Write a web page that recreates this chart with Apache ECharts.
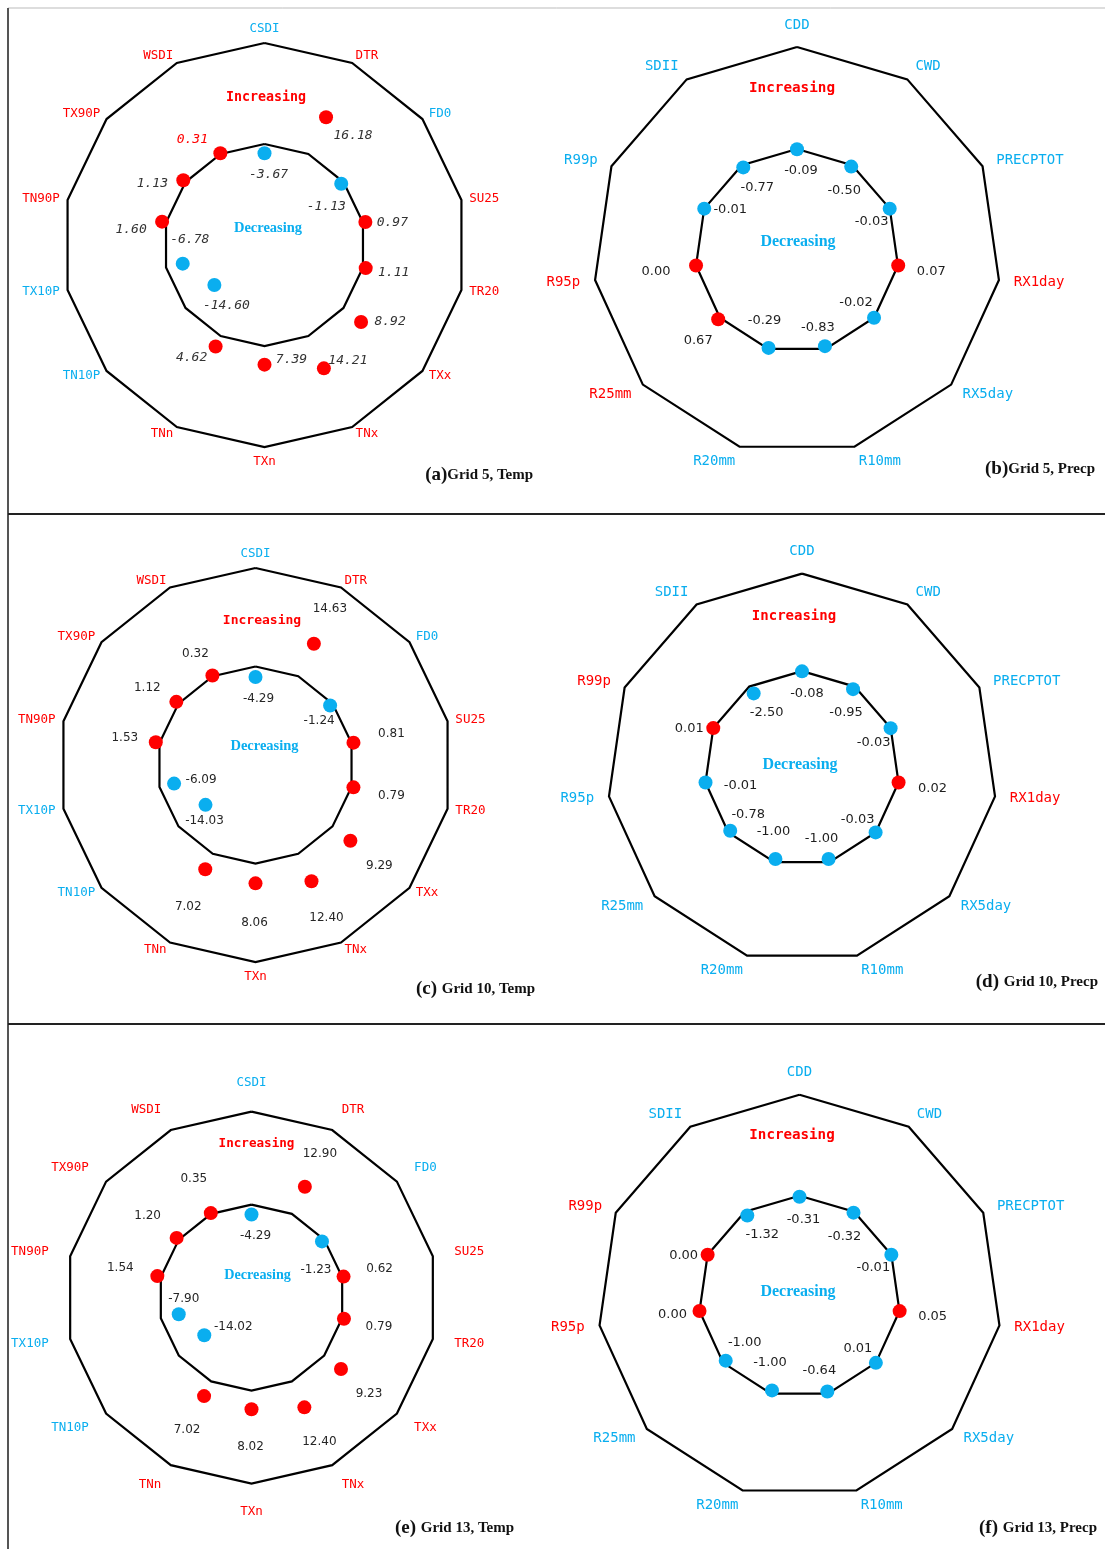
<!DOCTYPE html>
<html>
<head>
<meta charset="utf-8">
<title>Climate extreme indices trends</title>
<script src="https://cdn.jsdelivr.net/npm/echarts@6/dist/echarts.min.js"></script>
<style>
  html, body { margin: 0; padding: 0; background: #ffffff; }
  #chart { width: 1105px; height: 1549px; }
</style>
</head>
<body>
<div id="chart"></div>
<script>
// ETCCDI indices, listed clockwise starting from the top of each polygon
const tempIndices = ['CSDI', 'DTR', 'FD0', 'SU25', 'TR20', 'TXx', 'TNx', 'TXn', 'TNn', 'TN10P', 'TX10P', 'TN90P', 'TX90P', 'WSDI'];
const precIndices = ['CDD', 'CWD', 'PRECPTOT', 'RX1day', 'RX5day', 'R10mm', 'R20mm', 'R25mm', 'R95p', 'R99p', 'SDII'];

// Trend values per grid (I = increasing, D = decreasing)
const grid5Temp       = [-3.67, 16.18, -1.13, 0.97, 1.11, 8.92, 14.21, 7.39, 4.62, -14.60, -6.78, 1.60, 1.13, 0.31];
const grid5TempTrend  = ['D', 'I', 'D', 'I', 'I', 'I', 'I', 'I', 'I', 'D', 'D', 'I', 'I', 'I'];
const grid5Prec       = [-0.09, -0.50, -0.03, 0.07, -0.02, -0.83, -0.29, 0.67, 0.00, -0.01, -0.77];
const grid5PrecTrend  = ['D', 'D', 'D', 'I', 'D', 'D', 'D', 'I', 'I', 'D', 'D'];

const grid10Temp      = [-4.29, 14.63, -1.24, 0.81, 0.79, 9.29, 12.40, 8.06, 7.02, -14.03, -6.09, 1.53, 1.12, 0.32];
const grid10TempTrend = ['D', 'I', 'D', 'I', 'I', 'I', 'I', 'I', 'I', 'D', 'D', 'I', 'I', 'I'];
const grid10Prec      = [-0.08, -0.95, -0.03, 0.02, -0.03, -1.00, -1.00, -0.78, -0.01, 0.01, -2.50];
const grid10PrecTrend = ['D', 'D', 'D', 'I', 'D', 'D', 'D', 'D', 'D', 'I', 'D'];

const grid13Temp      = [-4.29, 12.90, -1.23, 0.62, 0.79, 9.23, 12.40, 8.02, 7.02, -14.02, -7.90, 1.54, 1.20, 0.35];
const grid13TempTrend = ['D', 'I', 'D', 'I', 'I', 'I', 'I', 'I', 'I', 'D', 'D', 'I', 'I', 'I'];
const grid13Prec      = [-0.31, -0.32, -0.01, 0.05, 0.01, -0.64, -1.00, -1.00, 0.00, 0.00, -1.32];
const grid13PrecTrend = ['D', 'D', 'D', 'I', 'D', 'D', 'D', 'D', 'I', 'I', 'D'];

// Value label placement relative to each dot, [dx, dy] in px
const offsetsA = [[4, 21], [27, 18], [-15, 23], [27, 1], [28, 5], [29, 0], [24, -8], [27, -5], [-24, 11], [12, 21], [7, -24], [-31, 8], [-31, 3], [-28, -14]];
const offsetsB = [[4, 21], [-7, 24], [-18, 13], [33, 6], [-18, -15], [-7, -19], [-4, -27], [-20, 21], [-40, 6], [26, 1], [14, 20]];
const offsetsC = [[3, 22], [16, -35], [-11, 15], [38, -9], [38, 9], [29, 25], [15, 37], [-1, 40], [-17, 38], [-1, 16], [27, -4], [-31, -4], [-29, -14], [-17, -22]];
const offsetsD = [[5, 22], [-7, 23], [-17, 14], [34, 6], [-18, -13], [-7, -20], [-2, -27], [18, -16], [35, 3], [-24, 1], [13, 19]];
const offsetsE = [[4, 21], [15, -33], [-6, 28], [36, -8], [35, 8], [28, 25], [15, 35], [-1, 38], [-17, 34], [29, -8], [5, -15], [-37, -8], [-29, -22], [-17, -34]];
const offsetsF = [[4, 23], [-9, 24], [-18, 13], [33, 6], [-18, -14], [-8, -21], [-2, -28], [19, -18], [-27, 4], [-24, 1], [15, 19]];

const RED = '#ff0000';
const BLUE = '#0aaeef';

const tempValueFont = { fontFamily: 'DejaVu Sans', fontSize: 12, color: '#262626' };
const precValueFont = { fontFamily: 'DejaVu Sans', fontSize: 13, color: '#1e1e1e' };

const panels = [
  { names: tempIndices, values: grid5Temp, trend: grid5TempTrend, offsets: offsetsA,
    center: [264.5, 245], radius: 202, range: 40, nameSize: 12.5, nameGap: 8,
    valueFont: { fontFamily: 'DejaVu Sans Mono', fontStyle: 'italic', fontSize: 13, color: '#333333' },
    redValueLabels: [13],
    inc: [266, 98], dec: [268, 228], incSize: 13.3, decSize: 14.5,
    tag: '(a)', caption: 'Grid 5, Temp', capPos: [533, 475] },
  { names: precIndices, values: grid5Prec, trend: grid5PrecTrend, offsets: offsetsB,
    center: [797, 251], radius: 204, range: 30, nameSize: 14, nameGap: 15,
    valueFont: precValueFont, redValueLabels: [],
    inc: [792, 88], dec: [798, 242], incSize: 14.3, decSize: 16,
    tag: '(b)', caption: 'Grid 5, Precp', capPos: [1095, 469] },
  { names: tempIndices, values: grid10Temp, trend: grid10TempTrend, offsets: offsetsC,
    center: [255.5, 765], radius: 197, range: 40, nameSize: 12.5, nameGap: 8,
    valueFont: tempValueFont, redValueLabels: [],
    inc: [262, 621], dec: [264.5, 746], incSize: 13, decSize: 14.5,
    tag: '(c) ', caption: 'Grid 10, Temp', capPos: [535, 989] },
  { names: precIndices, values: grid10Prec, trend: grid10PrecTrend, offsets: offsetsD,
    center: [802, 768.6], radius: 195, range: 30, nameSize: 14, nameGap: 15,
    valueFont: precValueFont, redValueLabels: [],
    inc: [794, 616], dec: [800, 765], incSize: 14, decSize: 16,
    tag: '(d) ', caption: 'Grid 10, Precp', capPos: [1098, 982] },
  { names: tempIndices, values: grid13Temp, trend: grid13TempTrend, offsets: offsetsE,
    center: [251.5, 1297.6], radius: 186, range: 40, nameSize: 12.5, nameGap: 22,
    valueFont: tempValueFont, redValueLabels: [],
    inc: [256.5, 1144], dec: [257.6, 1275], incSize: 12.6, decSize: 14.2,
    tag: '(e) ', caption: 'Grid 13, Temp', capPos: [514, 1528] },
  { names: precIndices, values: grid13Prec, trend: grid13PrecTrend, offsets: offsetsF,
    center: [799.5, 1296.7], radius: 202, range: 30, nameSize: 14, nameGap: 15,
    valueFont: precValueFont, redValueLabels: [],
    inc: [792, 1135], dec: [798, 1292], incSize: 14.2, decSize: 16,
    tag: '(f) ', caption: 'Grid 13, Precp', capPos: [1097, 1528] }
];

// ECharts lays radar indicators out counter-clockwise; reorder so they read clockwise
function radarOrder(n) {
  const idx = [0];
  for (let i = n - 1; i >= 1; i--) idx.push(i);
  return idx;
}

const radar = [], polar = [], angleAxis = [], radiusAxis = [], series = [], graphic = [];

panels.forEach(function (p, k) {
  const n = p.names.length;
  radar.push({
    center: p.center,
    radius: p.radius,
    startAngle: 90,
    splitNumber: 2,
    shape: 'polygon',
    axisNameGap: p.nameGap,
    axisName: { fontFamily: 'DejaVu Sans Mono', fontSize: p.nameSize },
    indicator: radarOrder(n).map(function (i) {
      return { name: p.names[i], min: -p.range, max: p.range, color: p.trend[i] === 'I' ? RED : BLUE };
    }),
    axisLine: { show: false },
    axisTick: { show: false },
    axisLabel: { show: false },
    splitArea: { show: false },
    splitLine: { lineStyle: { color: '#000000', width: 2.2 } }
  });

  // Polar system sharing the radar's centre and radius places the dots
  polar.push({ center: p.center, radius: p.radius });
  angleAxis.push({ polarIndex: k, type: 'category', data: p.names, startAngle: 90, clockwise: true, boundaryGap: false, show: false });
  radiusAxis.push({ polarIndex: k, type: 'value', min: -p.range, max: p.range, show: false });

  series.push({
    type: 'scatter',
    coordinateSystem: 'polar',
    polarIndex: k,
    symbol: 'circle',
    symbolSize: 14,
    silent: true,
    z: 5,
    label: Object.assign({
      show: true,
      position: 'inside',
      formatter: function (d) { return d.value[0].toFixed(2); }
    }, p.valueFont),
    data: p.values.map(function (v, i) {
      const item = {
        value: [v, i],
        itemStyle: { color: p.trend[i] === 'I' ? RED : BLUE, opacity: 1 },
        label: { offset: p.offsets[i] }
      };
      if (p.redValueLabels.indexOf(i) >= 0) item.label.color = RED;
      return item;
    })
  });

  graphic.push({
    type: 'text', x: p.inc[0], y: p.inc[1], silent: true,
    style: { text: 'Increasing', fill: RED, align: 'center', verticalAlign: 'middle',
             font: 'bold ' + p.incSize + 'px "DejaVu Sans Mono", monospace' }
  });
  graphic.push({
    type: 'text', x: p.dec[0], y: p.dec[1], silent: true,
    style: { text: 'Decreasing', fill: BLUE, align: 'center', verticalAlign: 'middle',
             font: 'bold ' + p.decSize + 'px "Liberation Serif", serif' }
  });
  graphic.push({
    type: 'text', x: p.capPos[0], y: p.capPos[1], silent: true,
    style: {
      text: '{t|' + p.tag + '}{c|' + p.caption + '}',
      align: 'right', verticalAlign: 'middle',
      rich: {
        t: { fontFamily: 'Liberation Serif', fontWeight: 'bold', fontSize: 19, fill: '#111111', color: '#111111' },
        c: { fontFamily: 'Liberation Serif', fontWeight: 'bold', fontSize: 15, fill: '#111111', color: '#111111' }
      }
    }
  });
});

// Panel frame lines
graphic.push({ type: 'line', silent: true, shape: { x1: 8, y1: 8, x2: 1105, y2: 8 }, style: { stroke: '#bbbbbb', lineWidth: 1 } });
graphic.push({ type: 'line', silent: true, shape: { x1: 8, y1: 8, x2: 8, y2: 1549 }, style: { stroke: '#555555', lineWidth: 2 } });
graphic.push({ type: 'line', silent: true, shape: { x1: 8, y1: 514, x2: 1105, y2: 514 }, style: { stroke: '#222222', lineWidth: 2 } });
graphic.push({ type: 'line', silent: true, shape: { x1: 8, y1: 1024, x2: 1105, y2: 1024 }, style: { stroke: '#222222', lineWidth: 2 } });

const chart = echarts.init(document.getElementById('chart'), null, { renderer: 'canvas' });
chart.setOption({
  animation: false,
  backgroundColor: '#ffffff',
  radar: radar,
  polar: polar,
  angleAxis: angleAxis,
  radiusAxis: radiusAxis,
  series: series,
  graphic: graphic
});
</script>
</body>
</html>
